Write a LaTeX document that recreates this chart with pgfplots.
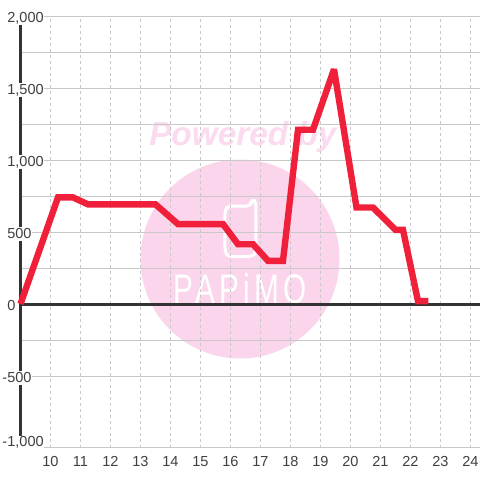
\documentclass[border=0pt]{standalone}
\usepackage{pgfplots}
\pgfplotsset{compat=1.18}
\usepackage{fontspec}
\setmainfont{Liberation Sans}
\definecolor{wm}{HTML}{FBD5EC}
\definecolor{wmt}{HTML}{FCDAEF}
\definecolor{ink}{HTML}{333333}
\definecolor{lbl}{HTML}{404040}
\definecolor{gridc}{HTML}{C8C8C8}
\definecolor{redl}{HTML}{F0203A}
\begin{document}
\begin{tikzpicture}[x=0.75pt,y=0.75pt]
\useasboundingbox[fill=white] (0,0) rectangle (480,480);
% watermark (pixel coordinates, y measured from the top)
\begin{scope}[yshift=360pt,y=-0.75pt]
\fill[wm] (240,259) circle (99.5);
\node[text=wmt,anchor=base west,inner sep=0pt,font=\fontsize{25pt}{26pt}\selectfont\bfseries\itshape] at (149,145.5) {Powered by};
\draw[white,line width=2.25pt,line join=round,rounded corners=3pt]
  (225,210) -- (225,252) -- (228,256.5) -- (253,256.5) -- (256,252) -- (256,200.5) -- (251,200.5) -- (251,206) -- (228,206) -- cycle;
\node[text=white,anchor=base,inner sep=0pt,xscale=0.72,font=\fontsize{31pt}{34pt}\selectfont\addfontfeature{LetterSpace=14}] at (240,304) {PAPiMO};
\end{scope}
\begin{axis}[
  at={(15.375pt,24pt)},anchor=south west,
  scale only axis,width=344.625pt,height=324pt,
  xmin=9,xmax=24.3167,ymin=-1000,ymax=2000,
  clip=false,
  axis y line*=left,axis x line*=bottom,
  x axis line style={draw=none,-},
  y axis line style={draw=ink,line width=2.25pt,-},
  major tick length=0pt,minor tick length=0pt,
  /pgf/number format/assume math mode=true,
  xtick={10,...,24},
  ytick={-500,0,500,1000,1500,2000},
  yticklabels={\llap{-}500,0,500,{1,000},{1,500},{2,000}},
  extra y ticks={-1000},
  extra y tick labels={\llap{-}{1,000}},
  extra y tick style={yticklabel style={yshift=5.25pt},grid=major},
  minor y tick num=1,
  xmajorgrids,ymajorgrids,yminorgrids,
  x grid style={draw=gridc,line width=0.6pt,dash pattern=on 2pt off 2.5pt},
  y grid style={draw=gridc,line width=0.75pt},
  minor y grid style={draw=gridc,line width=0.75pt},
  tick label style={font=\fontsize{10.9pt}{12pt}\selectfont,text=lbl},
  xticklabel style={anchor=base,yshift=-14.25pt,inner sep=0pt},
  yticklabel style={anchor=base west,inner sep=0pt,fill=white,text height=7.9pt,text depth=1.9pt,xshift=-10.1pt,yshift=-4.5pt},
]
\addplot[draw=ink,line width=2.25pt,forget plot] coordinates {(9,0) (24.3167,0)};
\addplot[draw=redl,line width=4.8pt,line join=miter,miter limit=2,line cap=butt,forget plot] coordinates {
 (9,0) (10.25,740) (10.75,740) (11.25,692) (13.5,692) (14.25,555) (15.75,555)
 (16.25,415) (16.75,415) (17.25,300) (17.75,300) (18.25,1210) (18.75,1210)
 (19.45,1630) (20.2,670) (20.75,670) (21.5,515) (21.75,515) (22.25,20) (22.6,20)};
\end{axis}
\end{tikzpicture}
\end{document}
